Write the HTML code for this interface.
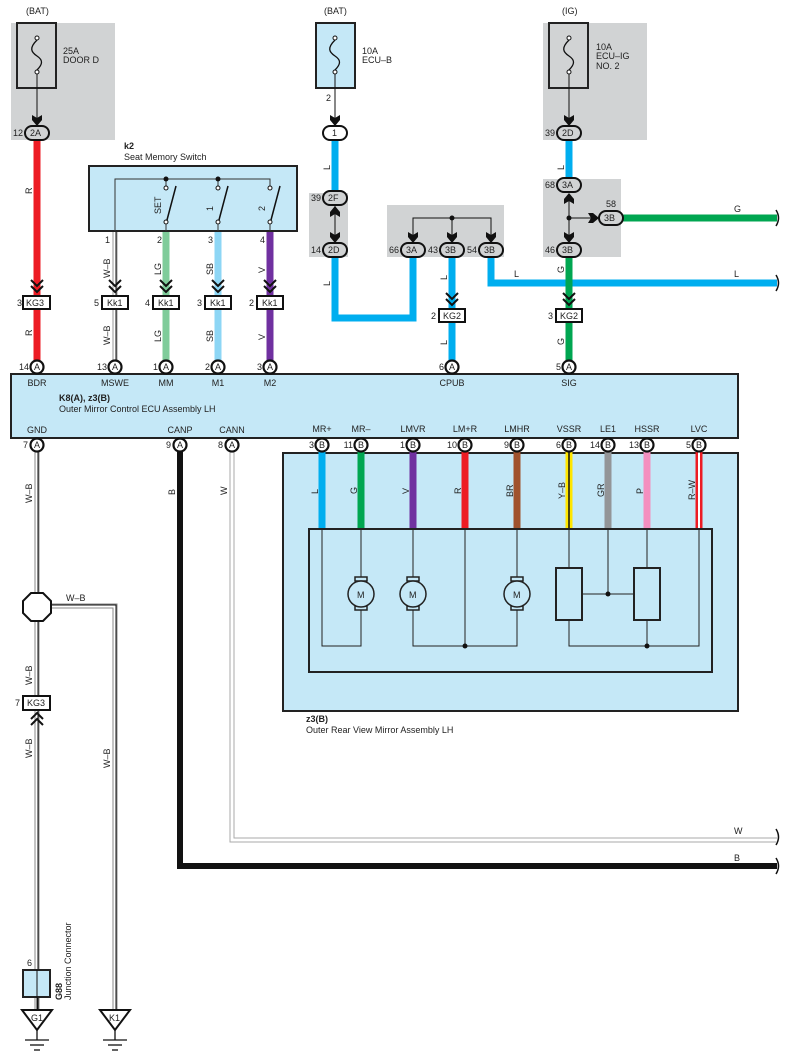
<!DOCTYPE html>
<html><head><meta charset="utf-8"><style>
html,body{margin:0;padding:0;background:#fff}
svg{display:block}
text{font-family:"Liberation Sans",sans-serif;font-size:9px;fill:#222}
</style></head><body>
<svg width="789" height="1063" viewBox="0 0 789 1063" xmlns="http://www.w3.org/2000/svg">
<defs>
<g id="chev"><polyline points="-6,-12 0,-6 6,-12" fill="none" stroke="#111" stroke-width="2"/><polyline points="-6,-6 0,0 6,-6" fill="none" stroke="#111" stroke-width="2"/></g>
<g id="chevup"><polyline points="-6,12 0,6 6,12" fill="none" stroke="#111" stroke-width="2"/><polyline points="-6,6 0,0 6,6" fill="none" stroke="#111" stroke-width="2"/></g>
<path id="arrD" d="M-5,-8 L0,-5 L5,-8 L5,-3 L0,3 L-5,-3 Z" fill="#111"/>
<path id="arrU" d="M-5,8 L0,5 L5,8 L5,3 L0,-3 L-5,3 Z" fill="#111"/>
<path id="arrR" d="M-8,-5 L-5,0 L-8,5 L-3,5 L3,0 L-3,-5 Z" fill="#111"/>
<path id="fuse" d="M0,-14 C-8,-6 -6,-2 0,2 C6,6 6,10 0,16" fill="none" stroke="#111" stroke-width="1.3"/>
</defs>

<rect x="11" y="23" width="104" height="117" fill="#d1d3d4"/>
<rect x="543" y="23" width="104" height="117" fill="#d1d3d4"/>
<rect x="309" y="193" width="39" height="64" fill="#d1d3d4"/>
<rect x="387" y="205" width="117" height="52" fill="#d1d3d4"/>
<rect x="543" y="179" width="78" height="78" fill="#d1d3d4"/>

<text x="26" y="14">(BAT)</text>
<rect x="17" y="23" width="39" height="65" fill="#d1d3d4" stroke="#222" stroke-width="2"/>
<use href="#fuse" x="37" y="54"/>
<circle cx="37" cy="38" r="2" fill="#fff" stroke="#111"/><circle cx="37" cy="72" r="2" fill="#fff" stroke="#111"/>
<text x="63" y="54">25A</text><text x="63" y="63">DOOR D</text>
<line x1="37" y1="74" x2="37" y2="122" stroke="#111" stroke-width="1"/>
<use href="#arrD" x="37" y="123"/>

<text x="324" y="14">(BAT)</text>
<rect x="316" y="23" width="39" height="65" fill="#c5e8f7" stroke="#222" stroke-width="2"/>
<use href="#fuse" x="335" y="54"/>
<circle cx="335" cy="38" r="2" fill="#fff" stroke="#111"/><circle cx="335" cy="72" r="2" fill="#fff" stroke="#111"/>
<text x="362" y="54">10A</text><text x="362" y="63">ECU–B</text>
<text x="326" y="101">2</text>
<line x1="335" y1="74" x2="335" y2="122" stroke="#111" stroke-width="1"/>
<use href="#arrD" x="335" y="123"/>

<text x="562" y="14">(IG)</text>
<rect x="549" y="23" width="39" height="65" fill="#d1d3d4" stroke="#222" stroke-width="2"/>
<use href="#fuse" x="569" y="54"/>
<circle cx="569" cy="38" r="2" fill="#fff" stroke="#111"/><circle cx="569" cy="72" r="2" fill="#fff" stroke="#111"/>
<text x="596" y="50">10A</text><text x="596" y="59">ECU–IG</text><text x="596" y="69">NO. 2</text>
<line x1="569" y1="74" x2="569" y2="122" stroke="#111" stroke-width="1"/>
<use href="#arrD" x="569" y="123"/>

<line x1="37" y1="140" x2="37" y2="362" stroke="#ed1c24" stroke-width="7"/>
<line x1="335" y1="140" x2="335" y2="192" stroke="#00aeef" stroke-width="7"/>
<polyline points="335,256 335,318 413,318 413,256" fill="none" stroke="#00aeef" stroke-width="7"/>
<line x1="452" y1="256" x2="452" y2="362" stroke="#00aeef" stroke-width="7"/>
<polyline points="491,256 491,283 777,283" fill="none" stroke="#00aeef" stroke-width="7"/>
<line x1="569" y1="140" x2="569" y2="180" stroke="#00aeef" stroke-width="7"/>
<line x1="569" y1="256" x2="569" y2="362" stroke="#00a651" stroke-width="7"/>
<line x1="621" y1="218" x2="777" y2="218" stroke="#00a651" stroke-width="7"/>
<line x1="166" y1="231" x2="166" y2="362" stroke="#7fcc9a" stroke-width="7"/>
<line x1="218" y1="231" x2="218" y2="362" stroke="#8dd6f5" stroke-width="7"/>
<line x1="270" y1="231" x2="270" y2="362" stroke="#7030a0" stroke-width="7"/>
<line x1="115" y1="231" x2="115" y2="362" stroke="#999" stroke-width="5"/>
<line x1="115" y1="231" x2="115" y2="362" stroke="#fff" stroke-width="3"/>
<line x1="116" y1="231" x2="116" y2="362" stroke="#111" stroke-width="1"/>
<line x1="335" y1="200" x2="335" y2="245" stroke="#111" stroke-width="1"/>
<path d="M776,210 q5,8 0,16 M776,275 q5,8 0,16 M776,829 q5,8 0,16 M776,858 q5,8 0,16" fill="none" stroke="#111" stroke-width="1.5"/>

<rect x="25" y="126" width="24" height="14" rx="7" fill="#d1d3d4" stroke="#111" stroke-width="2"/><text x="30" y="136">2A</text><text x="13" y="136">12</text>
<rect x="323" y="126" width="24" height="14" rx="7" fill="#fff" stroke="#111" stroke-width="2"/><text x="332" y="136">1</text>
<rect x="557" y="126" width="24" height="14" rx="7" fill="#d1d3d4" stroke="#111" stroke-width="2"/><text x="562" y="136">2D</text><text x="545" y="136">39</text>
<use href="#arrU" x="335" y="209"/><use href="#arrD" x="335" y="240"/>
<rect x="323" y="191" width="24" height="14" rx="7" fill="#d1d3d4" stroke="#111" stroke-width="2"/><text x="328" y="201">2F</text><text x="311" y="201">39</text>
<rect x="323" y="243" width="24" height="14" rx="7" fill="#d1d3d4" stroke="#111" stroke-width="2"/><text x="328" y="253">2D</text><text x="311" y="253">14</text>
<polyline points="413,240 413,218 491,218 491,240" fill="none" stroke="#111" stroke-width="1"/>
<line x1="452" y1="218" x2="452" y2="240" stroke="#111" stroke-width="1"/><circle cx="452" cy="218" r="2.5" fill="#111"/>
<use href="#arrD" x="413" y="240"/><use href="#arrD" x="452" y="240"/><use href="#arrD" x="491" y="240"/>
<rect x="401" y="243" width="24" height="14" rx="7" fill="#d1d3d4" stroke="#111" stroke-width="2"/><text x="406" y="253">3A</text><text x="389" y="253">66</text>
<rect x="440" y="243" width="24" height="14" rx="7" fill="#d1d3d4" stroke="#111" stroke-width="2"/><text x="445" y="253">3B</text><text x="428" y="253">43</text>
<rect x="479" y="243" width="24" height="14" rx="7" fill="#d1d3d4" stroke="#111" stroke-width="2"/><text x="484" y="253">3B</text><text x="467" y="253">54</text>
<line x1="569" y1="195" x2="569" y2="240" stroke="#111" stroke-width="1"/><line x1="569" y1="218" x2="595" y2="218" stroke="#111" stroke-width="1"/>
<circle cx="569" cy="218" r="2.5" fill="#111"/>
<use href="#arrU" x="569" y="196"/><use href="#arrD" x="569" y="240"/><use href="#arrR" x="596" y="218"/>
<rect x="557" y="178" width="24" height="14" rx="7" fill="#d1d3d4" stroke="#111" stroke-width="2"/><text x="562" y="188">3A</text><text x="545" y="188">68</text>
<rect x="557" y="243" width="24" height="14" rx="7" fill="#d1d3d4" stroke="#111" stroke-width="2"/><text x="562" y="253">3B</text><text x="545" y="253">46</text>
<rect x="599" y="211" width="24" height="14" rx="7" fill="#d1d3d4" stroke="#111" stroke-width="2"/><text x="604" y="221">3B</text><text x="606" y="207">58</text>

<g font-size="9">
<text transform="translate(32,194) rotate(-90)">R</text>
<text transform="translate(32,336) rotate(-90)">R</text>
<text transform="translate(110,278) rotate(-90)">W–B</text>
<text transform="translate(110,345) rotate(-90)">W–B</text>
<text transform="translate(161,275) rotate(-90)">LG</text>
<text transform="translate(161,342) rotate(-90)">LG</text>
<text transform="translate(213,275) rotate(-90)">SB</text>
<text transform="translate(213,342) rotate(-90)">SB</text>
<text transform="translate(265,273) rotate(-90)">V</text>
<text transform="translate(265,340) rotate(-90)">V</text>
<text transform="translate(330,170) rotate(-90)">L</text>
<text transform="translate(330,286) rotate(-90)">L</text>
<text transform="translate(447,280) rotate(-90)">L</text>
<text transform="translate(447,345) rotate(-90)">L</text>
<text transform="translate(564,170) rotate(-90)">L</text>
<text transform="translate(564,273) rotate(-90)">G</text>
<text transform="translate(564,345) rotate(-90)">G</text>
<text x="514" y="277">L</text><text x="734" y="277">L</text><text x="734" y="212">G</text>
</g>

<use href="#chev" x="37" y="292"/><use href="#chev" x="115" y="292"/><use href="#chev" x="166" y="292"/><use href="#chev" x="218" y="292"/><use href="#chev" x="270" y="292"/>
<use href="#chev" x="452" y="305"/><use href="#chev" x="569" y="305"/>
<g stroke="#111" stroke-width="2" fill="#fff">
<rect x="23" y="296" width="27" height="13"/><rect x="102" y="296" width="26" height="13"/><rect x="153" y="296" width="26" height="13"/><rect x="205" y="296" width="26" height="13"/><rect x="257" y="296" width="26" height="13"/>
<rect x="439" y="309" width="26" height="13"/><rect x="556" y="309" width="26" height="13"/>
</g>
<text x="26" y="306">KG3</text><text x="17" y="306">3</text>
<text x="107" y="306">Kk1</text><text x="94" y="306">5</text>
<text x="158" y="306">Kk1</text><text x="145" y="306">4</text>
<text x="210" y="306">Kk1</text><text x="197" y="306">3</text>
<text x="262" y="306">Kk1</text><text x="249" y="306">2</text>
<text x="443" y="319">KG2</text><text x="431" y="319">2</text>
<text x="560" y="319">KG2</text><text x="548" y="319">3</text>

<text x="124" y="149" font-weight="bold">k2</text><text x="124" y="160">Seat Memory Switch</text>
<rect x="89" y="166" width="208" height="65" fill="#c5e8f7" stroke="#222" stroke-width="2"/>
<polyline points="115,231 115,179 270,179 270,186" fill="none" stroke="#333" stroke-width="1"/>
<line x1="166" y1="179" x2="166" y2="186" stroke="#333"/><line x1="218" y1="179" x2="218" y2="186" stroke="#333"/>
<circle cx="166" cy="179" r="2.5" fill="#111"/><circle cx="218" cy="179" r="2.5" fill="#111"/>
<g fill="#fff" stroke="#111" stroke-width="1">
<circle cx="166" cy="188" r="2"/><circle cx="218" cy="188" r="2"/><circle cx="270" cy="188" r="2"/>
<circle cx="166" cy="222" r="2"/><circle cx="218" cy="222" r="2"/><circle cx="270" cy="222" r="2"/>
</g>
<g stroke="#111" stroke-width="1.5"><line x1="167" y1="220" x2="176" y2="186"/><line x1="219" y1="220" x2="228" y2="186"/><line x1="271" y1="220" x2="280" y2="186"/></g>
<line x1="166" y1="224" x2="166" y2="231" stroke="#333"/><line x1="218" y1="224" x2="218" y2="231" stroke="#333"/><line x1="270" y1="224" x2="270" y2="231" stroke="#333"/>
<text transform="translate(161,214) rotate(-90)">SET</text>
<text transform="translate(213,211) rotate(-90)">1</text>
<text transform="translate(265,211) rotate(-90)">2</text>
<text x="105" y="243">1</text><text x="157" y="243">2</text><text x="208" y="243">3</text><text x="260" y="243">4</text>

<polyline points="37,444 37,1010" fill="none" stroke="#888" stroke-width="5"/>
<polyline points="37,444 37,1010" fill="none" stroke="#fff" stroke-width="3"/>
<line x1="38" y1="444" x2="38" y2="1010" stroke="#111" stroke-width="1"/>
<polyline points="50,606 115,606 115,1010" fill="none" stroke="#888" stroke-width="5"/>
<polyline points="50,606 115,606 115,1010" fill="none" stroke="#fff" stroke-width="3"/>
<polyline points="50,605 116,605 116,1010" fill="none" stroke="#111" stroke-width="1"/>
<polyline points="180,450 180,866 777,866" fill="none" stroke="#111" stroke-width="6"/>
<polyline points="232,450 232,840 777,840" fill="none" stroke="#aaa" stroke-width="5"/>
<polyline points="232,450 232,840 777,840" fill="none" stroke="#fff" stroke-width="3"/>
<polygon points="31,593 43,593 51,601 51,613 43,621 31,621 23,613 23,601" fill="#fff" stroke="#111" stroke-width="2"/>
<text transform="translate(32,503) rotate(-90)">W–B</text>
<text transform="translate(32,685) rotate(-90)">W–B</text>
<text transform="translate(32,758) rotate(-90)">W–B</text>
<text transform="translate(110,768) rotate(-90)">W–B</text>
<text x="66" y="601">W–B</text>
<text transform="translate(175,495) rotate(-90)">B</text>
<text transform="translate(227,495) rotate(-90)">W</text>
<text x="734" y="834">W</text><text x="734" y="861">B</text>
<rect x="23" y="696" width="27" height="14" fill="#fff" stroke="#111" stroke-width="2"/><text x="27" y="706">KG3</text><text x="15" y="706">7</text>
<use href="#chevup" x="37" y="713"/>
<rect x="23" y="970" width="27" height="27" fill="#c5e8f7" stroke="#222" stroke-width="2"/>
<line x1="37" y1="970" x2="37" y2="1010" stroke="#111"/>
<text x="27" y="966" font-size="8">6</text>
<text transform="translate(62,1000) rotate(-90)" font-weight="bold" font-size="8">G88</text>
<text transform="translate(71,1000) rotate(-90)" font-size="8">Junction Connector</text>
<polygon points="22,1010 52,1010 37,1030" fill="#fff" stroke="#111" stroke-width="2"/><text x="31" y="1021">G1</text>
<polygon points="100,1010 130,1010 115,1030" fill="#fff" stroke="#111" stroke-width="2"/><text x="109" y="1021">K1</text>
<g stroke="#111" stroke-width="1.3"><line x1="37" y1="1030" x2="37" y2="1040"/><line x1="25" y1="1040" x2="49" y2="1040"/><line x1="30" y1="1045" x2="44" y2="1045"/><line x1="34" y1="1050" x2="40" y2="1050"/>
<line x1="115" y1="1030" x2="115" y2="1040"/><line x1="103" y1="1040" x2="127" y2="1040"/><line x1="108" y1="1045" x2="122" y2="1045"/><line x1="112" y1="1050" x2="118" y2="1050"/></g>

<rect x="11" y="374" width="727" height="64" fill="#c5e8f7" stroke="#222" stroke-width="2"/>
<g text-anchor="middle">
<text x="37" y="386">BDR</text><text x="115" y="386">MSWE</text><text x="166" y="386">MM</text><text x="218" y="386">M1</text><text x="270" y="386">M2</text><text x="452" y="386">CPUB</text><text x="569" y="386">SIG</text>
<text x="37" y="433">GND</text><text x="180" y="433">CANP</text><text x="232" y="433">CANN</text>
</g>
<text x="59" y="401" font-weight="bold">K8(A), z3(B)</text>
<text x="59" y="412">Outer Mirror Control ECU Assembly LH</text>

<rect x="283" y="453" width="455" height="258" fill="#c5e8f7" stroke="#222" stroke-width="2"/>
<g text-anchor="middle">
<text x="322" y="432">MR+</text><text x="361" y="432">MR–</text><text x="413" y="432">LMVR</text><text x="465" y="432">LM+R</text><text x="517" y="432">LMHR</text><text x="569" y="432">VSSR</text><text x="608" y="432">LE1</text><text x="647" y="432">HSSR</text><text x="699" y="432">LVC</text>
</g>
<line x1="322" y1="452" x2="322" y2="529" stroke="#00aeef" stroke-width="7"/>
<line x1="361" y1="452" x2="361" y2="529" stroke="#00a651" stroke-width="7"/>
<line x1="413" y1="452" x2="413" y2="529" stroke="#7030a0" stroke-width="7"/>
<line x1="465" y1="452" x2="465" y2="529" stroke="#ed1c24" stroke-width="7"/>
<line x1="517" y1="452" x2="517" y2="529" stroke="#a0522d" stroke-width="7"/>
<line x1="569" y1="452" x2="569" y2="529" stroke="#ffe600" stroke-width="7"/><line x1="569" y1="452" x2="569" y2="529" stroke="#111" stroke-width="1.5"/>
<line x1="608" y1="452" x2="608" y2="529" stroke="#939598" stroke-width="7"/>
<line x1="647" y1="452" x2="647" y2="529" stroke="#f48fbf" stroke-width="7"/>
<line x1="699" y1="452" x2="699" y2="529" stroke="#ed1c24" stroke-width="7"/><line x1="699" y1="452" x2="699" y2="529" stroke="#fff" stroke-width="2"/>
<g font-size="9">
<text transform="translate(318,494) rotate(-90)">L</text>
<text transform="translate(357,494) rotate(-90)">G</text>
<text transform="translate(409,494) rotate(-90)">V</text>
<text transform="translate(461,494) rotate(-90)">R</text>
<text transform="translate(513,497) rotate(-90)">BR</text>
<text transform="translate(565,499) rotate(-90)">Y–B</text>
<text transform="translate(604,497) rotate(-90)">GR</text>
<text transform="translate(643,494) rotate(-90)">P</text>
<text transform="translate(695,500) rotate(-90)">R–W</text>
</g>
<rect x="309" y="529" width="403" height="143" fill="none" stroke="#222" stroke-width="2"/>
<g fill="none" stroke="#222" stroke-width="1">
<polyline points="322,529 322,646 361,646 361,529"/>
<polyline points="413,529 413,646 517,646 517,529"/>
<line x1="465" y1="529" x2="465" y2="646"/>
<polyline points="569,529 569,568"/><polyline points="569,620 569,646 699,646 699,529"/>
<polyline points="647,529 647,568"/><line x1="647" y1="620" x2="647" y2="646"/>
<polyline points="582,594 634,594"/><line x1="608" y1="529" x2="608" y2="594"/>
</g>
<circle cx="465" cy="646" r="2.5" fill="#111"/><circle cx="647" cy="646" r="2.5" fill="#111"/><circle cx="608" cy="594" r="2.5" fill="#111"/>
<rect x="556" y="568" width="26" height="52" fill="none" stroke="#222" stroke-width="2"/>
<rect x="634" y="568" width="26" height="52" fill="none" stroke="#222" stroke-width="2"/>
<g stroke="#222" stroke-width="1.5" fill="#c5e8f7">
<rect x="355" y="577" width="12" height="4"/><rect x="355" y="606" width="12" height="4"/><circle cx="361" cy="594" r="13"/>
<rect x="407" y="577" width="12" height="4"/><rect x="407" y="606" width="12" height="4"/><circle cx="413" cy="594" r="13"/>
<rect x="511" y="577" width="12" height="4"/><rect x="511" y="606" width="12" height="4"/><circle cx="517" cy="594" r="13"/>
</g>
<text x="357" y="598">M</text><text x="409" y="598">M</text><text x="513" y="598">M</text>
<text x="306" y="722" font-weight="bold">z3(B)</text>
<text x="306" y="733">Outer Rear View Mirror Assembly LH</text>

<g fill="#fff" stroke="#111" stroke-width="2.2">
<circle cx="37" cy="367" r="6.5"/><circle cx="115" cy="367" r="6.5"/><circle cx="166" cy="367" r="6.5"/><circle cx="218" cy="367" r="6.5"/><circle cx="270" cy="367" r="6.5"/><circle cx="452" cy="367" r="6.5"/><circle cx="569" cy="367" r="6.5"/>
<circle cx="37" cy="445" r="6.5"/><circle cx="180" cy="445" r="6.5"/><circle cx="232" cy="445" r="6.5"/>
<circle cx="322" cy="445" r="6.5"/><circle cx="361" cy="445" r="6.5"/><circle cx="413" cy="445" r="6.5"/><circle cx="465" cy="445" r="6.5"/><circle cx="517" cy="445" r="6.5"/><circle cx="569" cy="445" r="6.5"/><circle cx="608" cy="445" r="6.5"/><circle cx="647" cy="445" r="6.5"/><circle cx="699" cy="445" r="6.5"/>
</g>
<g text-anchor="middle" font-size="8.5">
<text x="37" y="370">A</text><text x="115" y="370">A</text><text x="166" y="370">A</text><text x="218" y="370">A</text><text x="270" y="370">A</text><text x="452" y="370">A</text><text x="569" y="370">A</text>
<text x="37" y="448">A</text><text x="180" y="448">A</text><text x="232" y="448">A</text>
<text x="322" y="448">B</text><text x="361" y="448">B</text><text x="413" y="448">B</text><text x="465" y="448">B</text><text x="517" y="448">B</text><text x="569" y="448">B</text><text x="608" y="448">B</text><text x="647" y="448">B</text><text x="699" y="448">B</text>
</g>
<g text-anchor="end" font-size="9">
<text x="29" y="370">14</text><text x="107" y="370">13</text><text x="158" y="370">1</text><text x="210" y="370">2</text><text x="262" y="370">3</text><text x="444" y="370">6</text><text x="561" y="370">5</text>
<text x="28" y="448" font-size="8">7</text><text x="171" y="448" font-size="8">9</text><text x="223" y="448" font-size="8">8</text>
<text x="314" y="448">3</text><text x="353" y="448">11</text><text x="405" y="448">1</text><text x="457" y="448">10</text><text x="509" y="448">9</text><text x="561" y="448">6</text><text x="600" y="448">14</text><text x="639" y="448">13</text><text x="691" y="448">5</text>
</g>
</svg>
</body></html>
